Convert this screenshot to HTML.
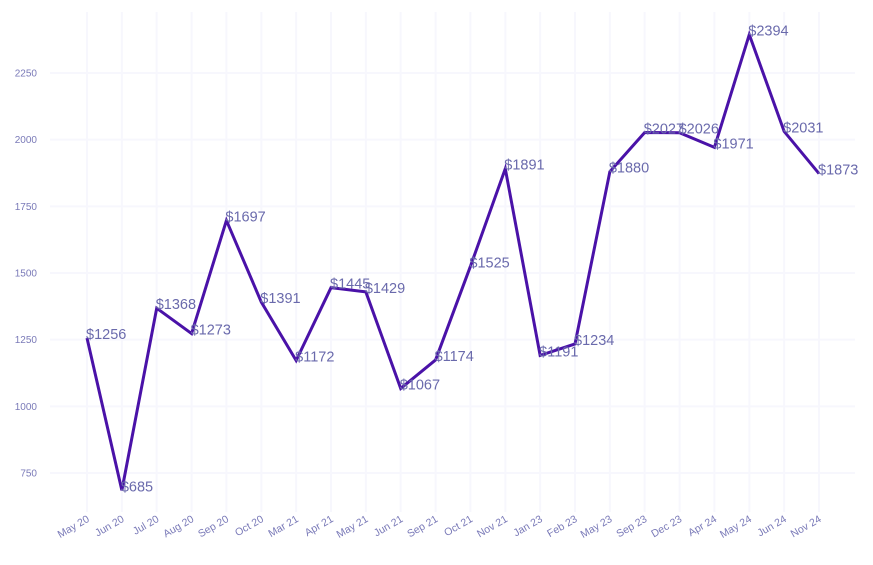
<!DOCTYPE html>
<html><head><meta charset="utf-8"><style>
body{margin:0;background:#fff}
svg{display:block;font-family:"Liberation Sans",sans-serif}
</style></head><body>
<svg id="chart" width="873" height="565" viewBox="0 0 873 565">
<g id="grid"></g>
<g id="yticks"></g>
<g id="xticks"></g>
<g id="series"></g>
</svg>
<script>
const categories=["May 20","Jun 20","Jul 20","Aug 20","Sep 20","Oct 20","Mar 21","Apr 21","May 21","Jun 21","Sep 21","Oct 21","Nov 21","Jan 23","Feb 23","May 23","Sep 23","Dec 23","Apr 24","May 24","Jun 24","Nov 24"];
const values=[1256,685,1368,1273,1697,1391,1172,1445,1429,1067,1174,1525,1891,1191,1234,1880,2027,2026,1971,2394,2031,1873];
const yTicks=[750,1000,1250,1500,1750,2000,2250];
const NS="http://www.w3.org/2000/svg";
function xs(i){return 87+i*(819-87)/(categories.length-1);}
function ys(v){return 473-(v-750)*400/1500;}
function mk(tag,attrs,parent){const e=document.createElementNS(NS,tag);for(const k in attrs)e.setAttribute(k,attrs[k]);parent.appendChild(e);return e;}
const grid=document.getElementById('grid'),yt=document.getElementById('yticks'),xt=document.getElementById('xticks'),se=document.getElementById('series');
categories.forEach((c,i)=>{
  const l=mk('line',{x1:xs(i),x2:xs(i),y1:12,y2:512,stroke:'#f7f7fd','stroke-width':2},grid);
  
  
  const t=mk('text',{x:xs(i)+3,y:521,'text-anchor':'end','font-size':10.5,fill:'#7a7ab8',transform:`rotate(-30 ${xs(i)+3} 521)`},xt);
  t.textContent=c;
  
  
});
yTicks.forEach(v=>{
  const l=mk('line',{x1:50,x2:855,y1:ys(v),y2:ys(v),stroke:'#f7f7fd','stroke-width':2},grid);
  
  
  const t=mk('text',{x:37,y:ys(v)+3.5,'text-anchor':'end','font-size':10,fill:'#7a7ab8'},yt);
  t.textContent=v;
  
  
});
const p=mk('polyline',{points:values.map((v,i)=>xs(i)+','+ys(v)).join(' '),fill:'none',stroke:'#4a12a8','stroke-width':3,'stroke-linejoin':'miter'},se);


values.forEach((v,i)=>{
  const t=mk('text',{x:xs(i)-1,y:ys(v)+1,'font-size':14.5,fill:'#6a6aac'},se);
  t.textContent='$'+v;
  
  
});
</script>
</body></html>
